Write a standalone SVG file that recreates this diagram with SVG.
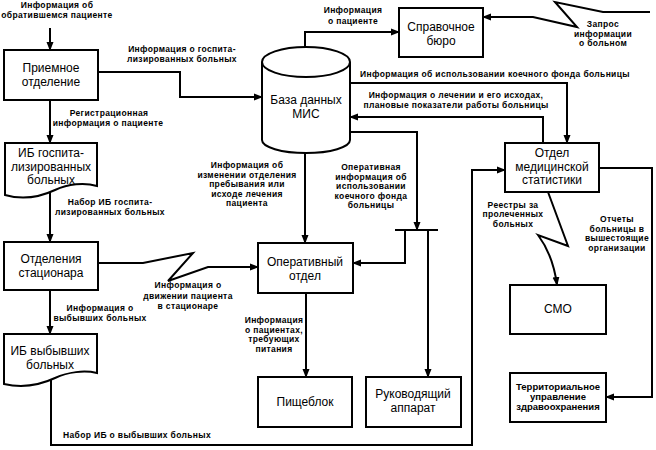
<svg xmlns="http://www.w3.org/2000/svg" width="656" height="450" viewBox="0 0 656 450">
<style>
.box{fill:#fff;stroke:#000;stroke-width:2}
.ln{fill:none;stroke:#000;stroke-width:2;marker-end:url(#a)}
.nl{fill:none;stroke:#000;stroke-width:2}
.n{font-family:"Liberation Sans",Arial,sans-serif;font-size:12px;text-anchor:middle;fill:#000}
.s{font-family:"Liberation Sans",Arial,sans-serif;font-size:9.5px;font-weight:bold;text-anchor:middle;fill:#000}
.l{font-family:"Liberation Sans",Arial,sans-serif;font-size:8.5px;font-weight:bold;letter-spacing:0.35px;text-anchor:middle;fill:#000}
.st{text-anchor:start}
</style>
<defs>
<marker id="a" markerWidth="9" markerHeight="8" refX="8" refY="4" orient="auto" markerUnits="userSpaceOnUse"><path d="M0,0.5 L9,4 L0,7.5 Z" fill="#000"/></marker>
</defs>
<rect width="656" height="450" fill="#fff"/>

<g id="connectors">
<path class="ln" d="M50,28 V50"/>
<path class="ln" d="M98,72 H180 V97 H262"/>
<path class="ln" d="M50,100 V143"/>
<path class="ln" d="M50,191 V242"/>
<path class="ln" d="M50,290 V334"/>
<path class="ln" d="M98,263 L143,263 L193,253 L168,281 L208,267 L258,267"/>
<path class="ln" d="M51,380 V445 H472 V170 H505"/>
<path class="ln" d="M305,47 V32 H399"/>
<path class="ln" d="M650,12 H603 L555,2 L577,27 L533,17 H483"/>
<path class="ln" d="M350,83 H567 V143"/>
<path class="ln" d="M543,143 V117 H350"/>
<path class="ln" d="M350,132 H417 V230"/>
<path class="nl" d="M395,230 H438"/>
<path class="ln" d="M405,230 V263 H353"/>
<path class="ln" d="M428,230 V377"/>
<path class="ln" d="M305,153 V243"/>
<path class="ln" d="M306,293 V377"/>
<path class="ln" d="M548,192 L568,246 L538,235 Q553,255 557,285"/>
<path class="ln" d="M599,168 H652 V397 H606"/>
</g>

<g id="labels">
<text class="l" x="57" y="8">Информация об</text>
<text class="l" x="57" y="18">обратившемся пациенте</text>
<text class="l" x="182" y="52">Информация о госпита-</text>
<text class="l" x="182" y="62">лизированных больных</text>
<text class="l" x="109" y="116">Регистрационная</text>
<text class="l" x="108" y="126">информация о пациенте</text>
<text class="l" x="110" y="205">Набор ИБ госпита-</text>
<text class="l" x="110" y="215">лизированных больных</text>
<text class="l" x="100" y="311">Информация о</text>
<text class="l" x="100" y="321">выбывших больных</text>
<text class="l" x="188" y="288">Информация о</text>
<text class="l" x="188" y="298.5">движении пациента</text>
<text class="l" x="188" y="309">в стационаре</text>
<text class="l st" x="63" y="438">Набор ИБ о выбывших больных</text>
<text class="l" x="353" y="13">Информация</text>
<text class="l" x="353" y="23.5">о пациенте</text>
<text class="l" x="603" y="27">Запрос</text>
<text class="l" x="603" y="36.5">информации</text>
<text class="l" x="603" y="46">о больном</text>
<text class="l" x="495" y="77">Информация об использовании коечного фонда больницы</text>
<text class="l" x="456" y="98">Информация о лечении и его исходах,</text>
<text class="l" x="456" y="108">плановые показатели работы больницы</text>
<text class="l" x="371" y="170">Оперативная</text>
<text class="l" x="371" y="179.5">информация об</text>
<text class="l" x="371" y="189">использовании</text>
<text class="l" x="371" y="198.5">коечного фонда</text>
<text class="l" x="371" y="208">больницы</text>
<text class="l" x="247" y="168">Информация об</text>
<text class="l" x="247" y="177.5">изменении отделения</text>
<text class="l" x="247" y="187">пребывания или</text>
<text class="l" x="247" y="196.5">исходе лечения</text>
<text class="l" x="247" y="206">пациента</text>
<text class="l" x="274" y="323">Информация</text>
<text class="l" x="274" y="332.5">о пациентах,</text>
<text class="l" x="274" y="342">требующих</text>
<text class="l" x="274" y="351.5">питания</text>
<text class="l" x="513" y="207.5">Реестры за</text>
<text class="l" x="513" y="217">пролеченных</text>
<text class="l" x="513" y="226.5">больных</text>
<text class="l" x="617" y="222">Отчеты</text>
<text class="l" x="617" y="231.5">больницы в</text>
<text class="l" x="617" y="241">вышестоящие</text>
<text class="l" x="617" y="250.5">организации</text>
</g>

<g id="priemnoe">
<rect class="box" x="4" y="50" width="94" height="50"/>
<text class="n" x="51" y="72">Приемное</text>
<text class="n" x="51" y="86">отделение</text>
</g>

<g id="ib-gosp">
<path class="box" d="M5,143 H97 V186 C84,182 68,184 55,190 C40,197 22,200 5,195 Z"/>
<text class="n" x="51" y="157">ИБ госпита-</text>
<text class="n" x="51" y="170.5">лизированных</text>
<text class="n" x="51" y="184">больных</text>
</g>

<g id="otdeleniya">
<rect class="box" x="4" y="242" width="94" height="48"/>
<text class="n" x="51" y="263">Отделения</text>
<text class="n" x="51" y="277">стационара</text>
</g>

<g id="ib-vyb">
<path class="box" d="M4,334 H97 V373 C84,370 68,372 55,378 C40,385 22,388 4,384 Z"/>
<text class="n" x="50" y="355">ИБ выбывших</text>
<text class="n" x="50" y="368.5">больных</text>
</g>

<g id="bd-mis">
<path class="box" d="M262,62 V140 A44,13 0 0 0 350,140 V62"/>
<ellipse class="box" cx="306" cy="62" rx="44" ry="15"/>
<text class="n" x="306" y="104">База данных</text>
<text class="n" x="306" y="118">МИС</text>
</g>

<g id="spravochnoe">
<rect class="box" x="399" y="8" width="84" height="49"/>
<text class="n" x="441" y="31">Справочное</text>
<text class="n" x="441" y="45">бюро</text>
</g>

<g id="operativny">
<rect class="box" x="258" y="243" width="95" height="50"/>
<text class="n" x="305" y="266">Оперативный</text>
<text class="n" x="305" y="280">отдел</text>
</g>

<g id="pischeblok">
<rect class="box" x="258" y="377" width="94" height="50"/>
<text class="n" x="305" y="406">Пищеблок</text>
</g>

<g id="rukovod">
<rect class="box" x="366" y="377" width="95" height="50"/>
<text class="n" x="413" y="398">Руководящий</text>
<text class="n" x="413" y="412">аппарат</text>
</g>

<g id="stat">
<rect class="box" x="505" y="143" width="94" height="49"/>
<text class="n" x="552" y="157">Отдел</text>
<text class="n" x="552" y="170.5">медицинской</text>
<text class="n" x="552" y="184">статистики</text>
</g>

<g id="smo">
<rect class="box" x="510" y="285" width="96" height="49"/>
<text class="n" x="558" y="313">СМО</text>
</g>

<g id="terr">
<rect class="box" x="510" y="373" width="96" height="49"/>
<text class="s" x="558" y="390">Территориальное</text>
<text class="s" x="558" y="400">управление</text>
<text class="s" x="558" y="410">здравоохранения</text>
</g>
</svg>
